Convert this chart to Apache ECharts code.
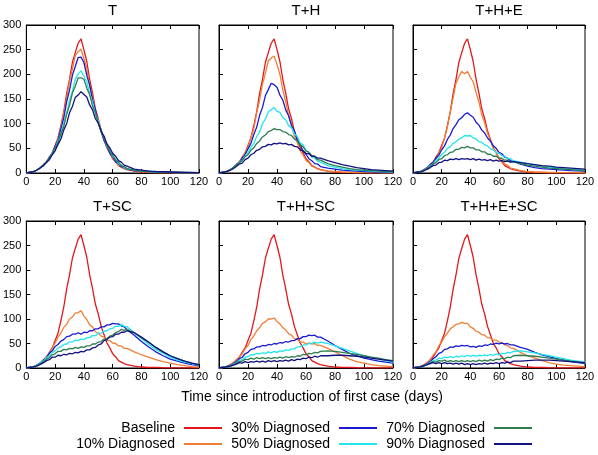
<!DOCTYPE html>
<html><head><meta charset="utf-8">
<script src="https://cdn.jsdelivr.net/npm/echarts@6/dist/echarts.min.js"></script>
<style>html,body{margin:0;padding:0;background:#fff}#c{width:598px;height:455px}</style>
</head><body><div id="c"></div>
<script>
// Days since first case (x values)
const days = [0,2,4,6,8,10,12,14,16,18,20,22,24,26,28,30,32,34,36,38,40,42,44,46,48,50,52,54,56,58,60,62,64,66,68,70,
  75,80,85,90,95,100,105,110,115,120];

// Baseline (same in every panel)
const baseline = [0,1,2,4,7,11,17,22,32,41,56,71,96,124,161,190,224,244,263,272,250,226,190,162,130,110,85,68,51,41,29,23,15,12,9,7,
  4,2,1,1,0.5,0.4,0.3,0.2,0.2,0.1];

// Panel T
const T_d10 = [0,1,2,4,7,11,16,24,30,42,53,71,91,121,152,186,211,238,246,251,232,212,178,154,124,106,83,67,51,41,30,24,16,13,10,8,
  5,3,2,1,1,0.6,0.5,0.4,0.3,0.2];
const T_d30 = [0,1,2,4,7,11,17,22,32,40,54,67,89,111,144,168,198,216,234,235,224,198,178,148,128,102,85,66,54,40,33,23,19,13,11,8,
  5,4,3,2,1.5,1,1,0.8,0.6,0.5];
const T_d50 = [0,1,2,4,7,12,15,23,29,41,50,65,79,102,120,147,166,190,201,207,196,185,161,144,120,106,85,73,55,46,34,28,19,16,11,9,
  6,4,3,2,2,1.5,1,1,0.8,0.6];
const T_d70 = [0,1,2,4,7,11,17,21,31,38,51,61,79,94,119,137,162,176,193,193,190,172,159,136,122,101,88,69,58,44,36,26,22,15,13,9,
  6,4,3,2,2,1.5,1,1,0.8,0.6];
const T_d90 = [0,1,2,4,7,11,15,22,27,37,45,58,69,87,100,122,135,153,158,165,159,154,138,128,110,101,84,75,59,51,40,34,25,22,16,14,
  8,6,4,3,2.5,2,1.5,1,1,0.8];

// Panel T+H
const H_d10 = [0,1,2,4,7,11,16,24,30,42,53,71,90,122,148,180,202,227,233,237,220,200,168,145,116,98,75,62,45,36,26,21,14,12,8,7,
  4,3,2,1.5,1,1,0.8,0.6,0.5,0.4];
const H_d30 = [0,1,2,4,7,11,17,21,30,37,49,60,78,93,117,133,157,169,182,179,174,158,148,128,116,96,85,67,58,44,38,29,25,19,18,13,
  10,8,6,5,4,3,2.5,2,1.5,1];
const H_d50 = [0,1,2,4,7,11,15,22,26,35,41,52,60,74,83,100,109,124,128,133,125,123,112,108,96,92,79,74,61,57,45,42,32,30,24,22,
  15,12,9,7,6,5,4,3,2.5,2];
const H_d70 = [0,1,2,4,7,11,15,21,25,33,37,46,51,60,65,73,77,84,86,90,88,88,84,83,78,76,69,65,57,53,45,42,35,33,27,26,
  19,15,12,9,7,6,5,4,3,3];
const H_d90 = [0,1,2,4,6,9,13,18,20,27,30,37,40,46,48,53,54,58,57,60,59,61,59,60,57,58,54,53,47,45,40,39,34,34,30,30,
  25,21,17,14,11,9,7,6,5,4];

// Panel T+H+E
const E_d10 = [0,1,2,4,7,11,16,23,28,39,51,71,93,124,153,182,195,206,201,206,194,185,163,144,118,102,80,68,50,43,31,26,18,16,10,9,
  5,3,2,1.5,1,1,0.8,0.6,0.5,0.4];
const E_d30 = [0,1,2,4,7,11,17,21,30,36,47,55,68,77,90,98,108,112,119,122,117,113,103,97,87,81,71,65,55,50,42,39,32,30,25,24,
  18,14,11,9,8,7,6,5,4.5,4];
const E_d50 = [0,1,2,4,6,10,15,18,26,30,38,42,50,53,60,63,69,71,76,75,76,71,69,63,62,57,55,49,47,41,40,35,34,29,29,25,
  22,19,16,14,12,11,9,8,7,6];
const E_d70 = [0,1,2,4,6,9,13,18,21,27,29,35,37,42,43,48,48,52,51,54,51,51,47,47,43,43,38,38,34,34,30,30,26,26,22,23,
  19,16,14,12,10,9,8,7,6,5];
const E_d90 = [0,1,2,3,5,8,11,15,16,21,22,26,25,28,27,29,27,29,28,29,27,29,26,28,26,27,25,27,24,26,24,25,23,24,22,23,
  21,19,17,15,14,12,11,10,9,8];

// Panel T+SC
const S_d10 = [0,1,2,4,7,11,16,24,30,42,51,63,71,83,89,100,104,112,113,117,106,99,88,84,74,71,65,63,57,56,51,50,45,45,40,40,
  33,27,22,17,13,10,7,5,3,2];
const S_d30 = [0,1,2,4,7,11,17,21,30,35,44,48,55,58,64,65,69,69,72,69,73,72,76,76,80,80,84,84,88,88,91,90,90,86,84,78,
  67,54,43,33,25,18,14,10,7,5];
const S_d50 = [0,1,2,4,7,11,15,21,25,32,35,41,43,48,49,53,53,57,56,59,58,62,62,66,66,71,71,75,76,80,81,85,85,89,85,84,
  72,60,48,38,30,22,16,12,9,6];
const S_d70 = [0,1,2,3,6,9,13,18,21,27,29,34,34,38,37,40,39,42,40,43,42,45,45,49,49,53,54,59,60,65,67,72,74,79,77,79,
  72,62,52,42,33,25,19,14,10,7];
const S_d90 = [0,1,2,3,5,8,11,15,17,22,22,26,25,28,27,30,29,32,31,34,33,37,37,41,42,47,49,56,58,63,64,69,69,73,73,76,
  72,63,53,42,33,25,19,14,10,7];

// Panel T+H+SC
const HS_d10 = [0,1,2,4,7,11,16,23,29,39,46,58,65,76,82,91,94,100,100,102,95,90,82,78,70,67,60,58,53,53,49,51,49,50,46,46,
  40,33,25,18,13,10,7,5,4,3];
const HS_d30 = [0,1,2,4,6,9,13,19,22,29,32,38,39,43,43,46,45,48,47,50,49,52,51,54,53,56,56,60,60,64,64,67,66,67,63,63,
  55,46,38,30,25,20,17,14,12,10];
const HS_d50 = [0,1,2,3,5,8,11,15,17,22,23,27,27,30,29,31,30,33,31,34,32,35,34,37,36,39,39,43,43,47,47,50,50,53,51,53,
  50,45,40,35,30,25,21,18,15,12];
const HS_d70 = [0,1,2,3,5,7,10,13,14,18,17,20,18,21,19,21,19,21,19,21,20,22,20,23,21,23,22,25,24,28,27,30,29,32,31,34,
  35,34,32,30,28,25,22,20,17,15];
const HS_d90 = [0,1,2,3,4,6,8,11,10,13,11,13,12,14,12,14,12,15,13,15,13,15,14,16,14,17,15,18,17,20,19,22,21,24,22,25,
  25,26,26,25,24,22,20,18,16,14];

// Panel T+H+E+SC
const ES_d10 = [0,1,2,4,7,11,17,26,33,45,53,64,71,80,84,89,90,93,91,91,84,81,75,73,68,67,62,61,57,57,53,52,47,46,41,40,
  32,25,20,15,11,8,6,5,4,3];
const ES_d30 = [0,1,2,4,6,9,13,19,23,30,32,38,39,43,42,45,44,46,45,46,43,44,42,45,44,47,46,49,48,51,49,51,49,50,47,47,
  42,38,32,27,23,19,16,13,11,9];
const ES_d50 = [0,1,2,3,5,8,11,15,16,20,19,22,21,23,21,24,22,25,23,26,24,26,24,26,25,27,25,28,26,29,27,30,29,32,31,34,
  35,33,31,28,25,22,19,16,14,12];
const ES_d70 = [0,1,2,3,5,8,10,13,12,15,14,16,13,15,13,15,13,15,13,15,13,15,13,16,14,16,14,17,15,18,17,20,19,22,21,25,
  26,25,24,22,20,18,16,14,12,10];
const ES_d90 = [0,1,2,3,5,7,9,11,9,11,9,11,9,10,8,10,8,10,7,9,7,9,7,9,8,10,8,10,9,11,9,11,10,12,11,14,
  14,15,16,16,16,15,14,13,12,11];

const panelTitles = ['T','T+H','T+H+E','T+SC','T+H+SC','T+H+E+SC'];
const seriesNames = ['Baseline','10% Diagnosed','30% Diagnosed','50% Diagnosed','70% Diagnosed','90% Diagnosed'];
const panelData = [
  [baseline,T_d10,T_d30,T_d50,T_d70,T_d90],
  [baseline,H_d10,H_d30,H_d50,H_d70,H_d90],
  [baseline,E_d10,E_d30,E_d50,E_d70,E_d90],
  [baseline,S_d10,S_d30,S_d50,S_d70,S_d90],
  [baseline,HS_d10,HS_d30,HS_d50,HS_d70,HS_d90],
  [baseline,ES_d10,ES_d30,ES_d50,ES_d70,ES_d90]
];
const xTitle = 'Time since introduction of first case (days)';

// styling / layout
const colors = ['#e3161b','#f07f35','#1a1ad2','#22e6ec','#2e7d4f','#12127e'];
const FONT = "'Liberation Sans', Arial, sans-serif";
const grids = [[26,25,173,148],[219,25,174,148],[413,25,172,148],[26,221,173,147],[219,221,174,147],[413,221,172,147]];

panelData.forEach((p,i)=>p.forEach((a,j)=>{ if(a.length!==days.length) throw new Error('length mismatch panel '+i+' series '+j+' len '+a.length); }));

const grid=[], xAxis=[], yAxis=[], series=[], graphic=[];
grids.forEach((g,i)=>{
  grid.push({left:g[0], top:g[1], width:g[2], height:g[3], show:true, borderColor:'#000', borderWidth:1, backgroundColor:'#fff'});
  const tick = {show:true, inside:true, length:4, lineStyle:{color:'#000', width:1}};
  xAxis.push({type:'value', gridIndex:i, min:0, max:120, interval:20, position:'bottom',
    axisLine:{show:true, onZero:false, lineStyle:{color:'#000'}}, axisTick:tick, splitLine:{show:false},
    axisLabel:{show:true, color:'#000', fontSize:11, fontFamily:FONT, margin:3}});
  xAxis.push({type:'value', gridIndex:i, min:0, max:120, interval:20, position:'top',
    axisLine:{show:true, onZero:false, lineStyle:{color:'#000'}}, axisTick:tick, splitLine:{show:false},
    axisLabel:{show:false}});
  yAxis.push({type:'value', gridIndex:i, min:0, max:300, interval:50,
    axisLine:{show:true, onZero:false, lineStyle:{color:'#000'}}, axisTick:tick, splitLine:{show:false},
    axisLabel:{show: i%3===0, color:'#000', fontSize:11, fontFamily:FONT, margin:5}});
  panelData[i].forEach((vals,k)=>{
    series.push({type:'line', name:seriesNames[k], xAxisIndex:2*i, yAxisIndex:i,
      data: days.map((d,j)=>[d, vals[j]]), symbol:'none', showSymbol:false,
      color:colors[k], lineStyle:{width:1.3, color:colors[k]}, animation:false, silent:true});
  });
  graphic.push({type:'text', x:g[0]+g[2]/2, y:g[1]-14.5, style:{text:panelTitles[i], fill:'#000', fontSize:15, fontFamily:FONT, textAlign:'center', textVerticalAlign:'middle'}});
});
graphic.push({type:'text', x:312, y:397, style:{text:xTitle, fill:'#000', fontSize:14, fontFamily:FONT, textAlign:'center', textVerticalAlign:'middle'}});

const legendRights = [375, 220, 65];
const legend = [0,1,2].map(c=>({
  data:[seriesNames[c*2], seriesNames[c*2+1]], orient:'vertical', align:'right',
  right:legendRights[c], top:421, padding:0, itemGap:2, itemWidth:38, itemHeight:14,
  itemStyle:{opacity:0}, lineStyle:{width:2},
  textStyle:{fontSize:14, color:'#000', fontFamily:FONT, padding:[0,4,0,0]},
  selectedMode:false
}));

const chart = echarts.init(document.getElementById('c'), null, {renderer:'canvas'});
chart.setOption({animation:false, backgroundColor:'#fff', grid, xAxis, yAxis, series, graphic, legend});
</script>
</body></html>
